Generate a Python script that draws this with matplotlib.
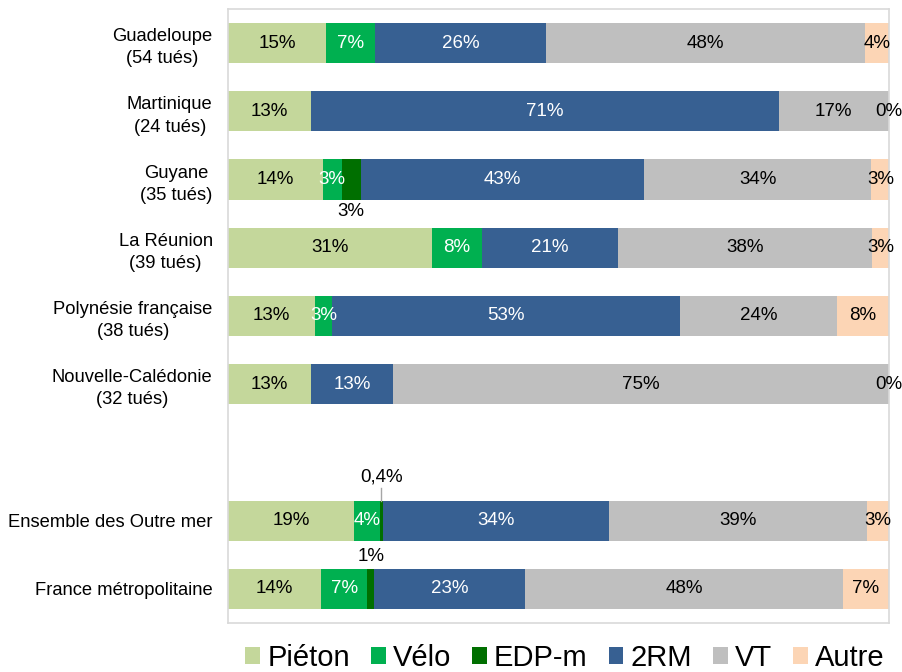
import matplotlib
matplotlib.use("Agg")
import numpy as np
import matplotlib.pyplot as plt

plt.rcParams['font.family'] = ['Liberation Sans', 'DejaVu Sans']

# categories (blank slot between the territories and the totals)
categories = ["Guadeloupe\n(54 tués)", "Martinique\n(24 tués)", "Guyane\n(35 tués)",
              "La Réunion\n(39 tués)", "Polynésie française\n(38 tués)",
              "Nouvelle-Calédonie\n(32 tués)", "Ensemble des Outre mer",
              "France métropolitaine"]
positions = [0, 1, 2, 3, 4, 5, 7, 8]

# shares in %
pieton = [14.8, 12.5, 14.3, 30.8, 13.2, 12.5, 19.1, 14.1]
velo = [7.4, 0, 2.9, 7.7, 2.6, 0, 3.9, 7.0]
edp = [0, 0, 2.9, 0, 0, 0, 0.4, 1.0]
drm = [25.9, 70.8, 42.9, 20.5, 52.6, 12.5, 34.2, 22.9]
vt = [48.2, 16.7, 34.3, 38.4, 23.7, 75.0, 39.1, 48.0]
autre = [3.7, 0, 2.9, 2.6, 7.9, 0, 3.3, 7.0]

series = [("Piéton", pieton, "#C4D79B", "black"),
          ("Vélo", velo, "#00B050", "white"),
          ("EDP-m", edp, "#006F00", "black"),
          ("2RM", drm, "#376092", "white"),
          ("VT", vt, "#BFBFBF", "black"),
          ("Autre", autre, "#FCD5B5", "black")]


def fmt(v):
    if v < 1 and v > 0:
        return ("%.1f" % v).replace(".", ",") + "%"
    return "%d%%" % int(v + 0.5)


fig = plt.figure(figsize=(9.02, 6.72), dpi=100)
ax = fig.add_axes([228 / 902, 1 - 623 / 672, 661 / 902, 614 / 672])

h = 0.59
fs = 13.5
left = np.zeros(len(positions))
for name, vals, col, tcol in series:
    vals = np.array(vals, dtype=float)
    ax.barh(positions, vals, left=left, height=h, color=col, label=name, linewidth=0)
    for i, (y, v) in enumerate(zip(positions, vals)):
        x = left[i] + v / 2
        if name == "EDP-m":
            if v == 0:
                continue
            if y == 2:
                ax.text(x, y + 0.47, fmt(v), ha="center", va="center", fontsize=fs, color="black")
            elif y == 7:
                ax.plot([x, x], [y - h / 2, y - 0.48], color="#A6A6A6", lw=1)
                ax.text(x, y - 0.64, fmt(v), ha="center", va="center", fontsize=fs, color="black")
            else:
                ax.text(x, y - 0.47, fmt(v), ha="center", va="center", fontsize=fs, color="black")
            continue
        if v == 0 and name != "Autre":
            continue
        ax.text(x, y, fmt(v), ha="center", va="center", fontsize=fs, color=tcol)
    left += vals

ax.set_xlim(0, 100)
ax.set_ylim(8.5, -0.5)
ax.set_xticks([])
ax.set_yticks(positions)
ax.set_yticklabels(categories, fontsize=13.2)
for t in ax.get_yticklabels():
    t.set_multialignment("center")
    t.set_linespacing(1.4)
ax.tick_params(axis="y", length=0, pad=11)
for s in ax.spines.values():
    s.set_color("#D9D9D9")
    s.set_linewidth(1.2)

fig.legend(loc="center", bbox_to_anchor=(565 / 902, 1 - 658 / 672), ncol=6,
           frameon=False, fontsize=21, handlelength=0.5, handleheight=0.5,
           handletextpad=0.25, columnspacing=0.72)

fig.savefig("out.png", dpi=100)
